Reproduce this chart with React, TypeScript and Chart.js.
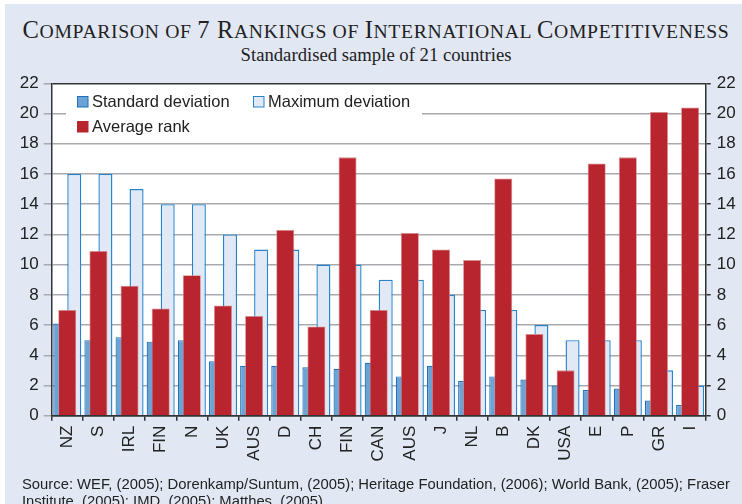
import React, { useEffect, useRef } from 'react';
import { Chart, registerables } from 'chart.js';

Chart.register(...registerables);

const countries = ['NZ', 'S', 'IRL', 'FIN', 'N', 'UK', 'AUS', 'D', 'CH', 'FIN', 'CAN', 'AUS', 'J', 'NL', 'B', 'DK', 'USA', 'E', 'P', 'GR', 'I'];
const stdDev = [6.1, 5.0, 5.2, 4.9, 5.0, 3.6, 3.3, 3.3, 3.2, 3.1, 3.5, 2.6, 3.3, 2.3, 2.6, 2.4, 2.0, 1.7, 1.8, 1.0, 0.7];
const maxDev = [16, 16, 15, 14, 14, 12, 11, 11, 10, 10, 9, 9, 8, 7, 7, 6, 5, 5, 5, 3, 2];
const avgRank = [7.0, 10.9, 8.6, 7.1, 9.3, 7.3, 6.6, 12.3, 5.9, 17.1, 7.0, 12.1, 11.0, 10.3, 15.7, 5.4, 3.0, 16.7, 17.1, 20.1, 20.4];
const yMin = 0;
const yMax = 22;
const yStep = 2;

const seriesNames = ['Standard deviation', 'Maximum deviation', 'Average rank'];
const sourceText = 'Source: WEF, (2005); Dorenkamp/Suntum, (2005); Heritage Foundation, (2006); World Bank, (2005); Fraser Institute, (2005); IMD, (2005); Matthes, (2005).';

const PANEL_BG = '#e1e8f4';
const STD_FILL = '#6ba3d5';
const STD_BORDER = '#1f71b8';
const MAX_FILL = '#e0e9f5';
const MAX_BORDER = '#2683cc';
const RED = '#b8252e';
const GRID = '#a7abaf';
const AXIS = '#333333';
const TEXT = '#222222';
const SANS = '"Liberation Sans", Arial, sans-serif';
const SERIF = '"Liberation Serif", "Times New Roman", serif';

export default function App() {
  const ref = useRef<HTMLCanvasElement>(null);

  useEffect(() => {
    const canvas = ref.current;
    if (!canvas) return;

    const plotBg = {
      id: 'plotBg',
      beforeDraw(chart: any) {
        const { ctx, chartArea: a } = chart;
        ctx.save();
        ctx.fillStyle = '#ffffff';
        ctx.fillRect(a.left, a.top, a.right - a.left, a.bottom - a.top);
        ctx.restore();
      },
    };

    const legendPlugin = {
      id: 'insideLegend',
      afterDatasetsDraw(chart: any) {
        const { ctx } = chart;
        ctx.save();
        ctx.fillStyle = '#ffffff';
        ctx.fillRect(66, 86, 356, 52);
        const items = [
          { x: 77.5, y: 96.5, fill: STD_FILL, stroke: STD_BORDER, label: seriesNames[0] },
          { x: 253.5, y: 96.5, fill: MAX_FILL, stroke: MAX_BORDER, label: seriesNames[1] },
          { x: 77.5, y: 121.5, fill: RED, stroke: RED, label: seriesNames[2] },
        ];
        ctx.font = `16.5px ${SANS}`;
        ctx.textBaseline = 'middle';
        ctx.textAlign = 'left';
        for (const it of items) {
          ctx.fillStyle = it.fill;
          ctx.fillRect(it.x, it.y, 10.5, 10.5);
          ctx.strokeStyle = it.stroke;
          ctx.lineWidth = 1;
          ctx.strokeRect(it.x, it.y, 10.5, 10.5);
          ctx.fillStyle = TEXT;
          ctx.fillText(it.label, it.x + 14.5, it.y + 6);
        }
        ctx.restore();
      },
    };

    const chart = new Chart(canvas, {
      type: 'bar',
      data: {
        labels: countries,
        datasets: [
          {
            label: seriesNames[0],
            data: stdDev,
            backgroundColor: STD_FILL,
            borderColor: STD_BORDER,
            borderWidth: 1.2,
            borderSkipped: 'start',
            categoryPercentage: 0.9,
            barPercentage: 1.0,
            order: 2,
          },
          {
            label: seriesNames[1],
            data: maxDev,
            backgroundColor: MAX_FILL,
            borderColor: MAX_BORDER,
            borderWidth: 1.4,
            borderSkipped: 'start',
            categoryPercentage: 0.9,
            barPercentage: 1.0,
            order: 2,
          },
          {
            label: seriesNames[2],
            data: avgRank,
            backgroundColor: RED,
            borderColor: '#d98a8f',
            borderWidth: 0.8,
            borderSkipped: 'start',
            grouped: false,
            categoryPercentage: 1.0,
            barPercentage: 0.6,
            maxBarThickness: 18,
            order: 1,
          } as any,
        ],
      },
      options: {
        responsive: false,
        animation: false,
        devicePixelRatio: 1,
        layout: { padding: { top: 83.3, left: 0, right: 0, bottom: 0 } },
        plugins: {
          legend: { display: false },
          title: { display: false },
          tooltip: { enabled: false },
        },
        scales: {
          x: {
            type: 'category',
            offset: true,
            grid: {
              offset: true,
              drawOnChartArea: false,
              drawTicks: true,
              tickLength: 5,
              color: AXIS,
              lineWidth: 1.5,
            },
            border: { display: true, color: AXIS, width: 1.5 },
            ticks: {
              autoSkip: false,
              maxRotation: 90,
              minRotation: 90,
              padding: 5,
              color: TEXT,
              font: { family: SANS, size: 17 },
            },
            afterFit: (s: any) => {
              s.height = 88.3;
            },
          },
          y: {
            position: 'left',
            min: yMin,
            max: yMax,
            ticks: {
              stepSize: yStep,
              padding: 5,
              color: TEXT,
              font: { family: SANS, size: 17 },
            },
            grid: {
              color: (c: any) => (c.tick && (c.tick.value === yMax || c.tick.value === yMin) ? AXIS : GRID),
              lineWidth: (c: any) => (c.tick && c.tick.value === yMax ? 1.6 : 1.5),
              tickColor: GRID,
              tickLength: 8,
            },
            border: { display: true, color: AXIS, width: 1.5 },
            afterFit: (s: any) => {
              s.width = 51.7;
            },
          },
          y2: {
            position: 'right',
            min: yMin,
            max: yMax,
            ticks: {
              stepSize: yStep,
              padding: 6,
              color: TEXT,
              font: { family: SANS, size: 17 },
            },
            grid: {
              drawOnChartArea: false,
              color: AXIS,
              tickLength: 5,
              lineWidth: 1.5,
            },
            border: { display: true, color: AXIS, width: 1.5 },
            afterFit: (s: any) => {
              s.width = 36.3;
            },
          },
        },
      } as any,
      plugins: [plotBg, legendPlugin],
    });

    return () => chart.destroy();
  }, []);

  const L = 24.5;
  const S = 19.7;
  return (
    <div style={{ position: 'fixed', left: 0, top: 0, width: 742, height: 504, overflow: 'hidden', background: '#ffffff' }}>
      <div style={{ position: 'absolute', left: 5, top: 4, width: 737, height: 500, background: PANEL_BG }} />
      <div
        style={{
          position: 'absolute',
          left: 0,
          top: 17.8,
          width: 752,
          textAlign: 'center',
          whiteSpace: 'nowrap',
          fontFamily: SERIF,
          fontSize: L,
          lineHeight: '24px',
          letterSpacing: '0.65px',
          color: TEXT,
        }}
      >
        <span style={{ fontSize: L }}>C</span>
        <span style={{ fontSize: S }}>OMPARISON OF </span>
        <span style={{ fontSize: L }}>7 R</span>
        <span style={{ fontSize: S }}>ANKINGS OF </span>
        <span style={{ fontSize: L }}>I</span>
        <span style={{ fontSize: S }}>NTERNATIONAL </span>
        <span style={{ fontSize: L }}>C</span>
        <span style={{ fontSize: S }}>OMPETITIVENESS</span>
      </div>
      <div
        style={{
          position: 'absolute',
          left: 0,
          top: 45,
          width: 752,
          textAlign: 'center',
          whiteSpace: 'nowrap',
          fontFamily: SERIF,
          fontSize: 18.7,
          lineHeight: '19px',
          color: TEXT,
        }}
      >
        Standardised sample of 21 countries
      </div>
      <canvas ref={ref} width={742} height={504} style={{ position: 'absolute', left: 0, top: 0, width: 742, height: 504 }} />
      <div
        style={{
          position: 'absolute',
          left: 22,
          top: 476,
          width: 716,
          fontFamily: SANS,
          fontSize: 14.8,
          lineHeight: '17px',
          color: TEXT,
        }}
      >
        {sourceText}
      </div>
    </div>
  );
}
